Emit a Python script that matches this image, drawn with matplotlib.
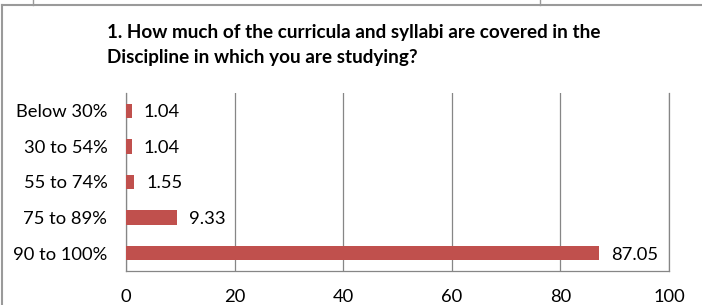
import matplotlib.pyplot as plt
from matplotlib.lines import Line2D

# Data
categories = ["Below 30%", "30 to 54%", "55 to 74%", "75 to 89%", "90 to 100%"]
values = [1.04, 1.04, 1.55, 9.33, 87.05]
value_labels = ["1.04", "1.04", "1.55", "9.33", "87.05"]
title = ("1. How much of the curricula and syllabi are covered in the\n"
         "Discipline in which you are studying?")

W, H = 702, 305
plt.rcParams['font.family'] = ['Lato', 'DejaVu Sans']
FS = 13.2

fig = plt.figure(figsize=(W / 100, H / 100), dpi=100)
# axes box in pixel coords: left 126, right 669, top 93, bottom 271
ax = fig.add_axes([126 / W, 1 - 271 / H, (669 - 126) / W, (271 - 93) / H])

pos = list(range(len(categories)))
ax.barh(pos, values, height=0.4, color='#C0504D', zorder=3)
for p, v, lab in zip(pos, values, value_labels):
    ax.text(v + 2.2, p, lab, va='center_baseline', ha='left', fontsize=FS,
            color='black')

ax.set_xlim(0, 100)
ax.set_ylim(len(categories) - 0.5, -0.5)
ax.set_yticks(pos)
ax.set_yticklabels(categories, fontsize=FS, va='center_baseline')
ax.set_xticks([0, 20, 40, 60, 80, 100])
ax.tick_params(axis='x', labelsize=FS, length=0, pad=13)
ax.tick_params(axis='y', length=0, pad=13.5)
ax.grid(axis='x', color='#868686', linewidth=0.9, zorder=0)
ax.spines['top'].set_visible(False)
for s in ['left', 'bottom', 'right']:
    ax.spines[s].set_color('#868686')
    ax.spines[s].set_linewidth(0.9)

fig.text(107 / W, 1 - 24 / H, title, ha='left', va='top', fontsize=13.6,
         fontweight='bold', linespacing=1.6)

# outer chart border (top and left visible) plus stubs from the chart above
gray = '#9A9A9A'
fig.add_artist(Line2D([1.5 / W, 1.5 / W], [0, 1 - 4.5 / H], color=gray, lw=1.5,
                      transform=fig.transFigure))
fig.add_artist(Line2D([1.5 / W, 1], [1 - 4.5 / H, 1 - 4.5 / H], color=gray, lw=1.5,
                      transform=fig.transFigure))
for xs in [33, 540]:
    fig.add_artist(Line2D([xs / W, xs / W], [1 - 4.5 / H, 1], color=gray, lw=1,
                          transform=fig.transFigure))

fig.savefig('out.png', dpi=100)
